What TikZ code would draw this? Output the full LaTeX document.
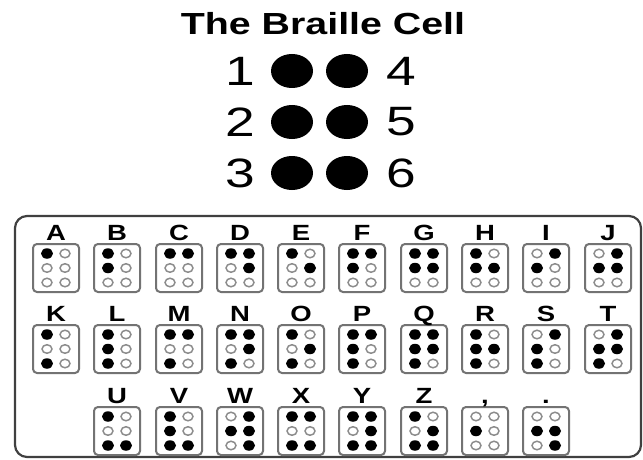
\documentclass[tikz,border=0pt]{standalone}
\usepackage{fontspec}
\setmainfont{Liberation Sans}
\usetikzlibrary{shapes.geometric}

% one braille cell: name, x, y, label, dots 1..6
\newcommand{\braillecell}[5]{%
  \node[cellbox] (#1) at (#2,#3) {};
  \node[letter] (#1-label) at (#2,#3-28) {#4};
  \foreach \d [count=\i from 0] in {#5} {
    \pgfmathtruncatemacro{\cc}{int(\i/3)}
    \pgfmathtruncatemacro{\rr}{mod(\i,3)}
    \node[bdot\d] (#1-\i) at (#2+18*\cc-9, #3+14.5*\rr-14.5) {};
  }
}

\begin{document}
\begin{tikzpicture}[
    x=1pt, y=-1pt,
    heading/.style={font=\fontsize{30.5}{31}\selectfont\bfseries, xscale=1.29, anchor=base, inner sep=0},
    digit/.style={font=\fontsize{41}{41}\selectfont, xscale=1.3, inner sep=0},
    bigdot/.style={ellipse, fill=black, minimum width=42pt, minimum height=34pt, inner sep=0},
    alphabox/.style={draw=black!75, line width=2.2pt, rounded corners=12pt},
    cellbox/.style={draw=black!55, line width=2pt, rounded corners=4pt, minimum width=46pt, minimum height=48pt, inner sep=0},
    letter/.style={font=\fontsize{22}{22}\selectfont\bfseries, xscale=1.25, anchor=base, inner sep=0},
    bdot1/.style={ellipse, fill=black, minimum width=12pt, minimum height=10.5pt, inner sep=0},
    bdot0/.style={ellipse, draw=black!45, line width=1.5pt, minimum width=10pt, minimum height=8.5pt, inner sep=0},
  ]
  \useasboundingbox (0,0) rectangle (643,460);

  % the big cell
  \node[heading] (title) at (323,35) {The Braille Cell};
  \node[bigdot] (p1) at (292,71) {};
  \node[bigdot] (p2) at (292,122) {};
  \node[bigdot] (p3) at (292,173) {};
  \node[bigdot] (p4) at (347,71) {};
  \node[bigdot] (p5) at (347,122) {};
  \node[bigdot] (p6) at (347,173) {};
  \node[digit] (n1) at (240,71) {1};
  \node[digit] (n2) at (240,122) {2};
  \node[digit] (n3) at (240,173) {3};
  \node[digit] (n4) at (401,71) {4};
  \node[digit] (n5) at (401,122) {5};
  \node[digit] (n6) at (401,173) {6};

  % alphabet
  \draw[alphabox] (15,216) rectangle (641,457);

  \braillecell{cellA}{56}{268}{A}{1,0,0,0,0,0}
  \braillecell{cellB}{117}{268}{B}{1,1,0,0,0,0}
  \braillecell{cellC}{179}{268}{C}{1,0,0,1,0,0}
  \braillecell{cellD}{240}{268}{D}{1,0,0,1,1,0}
  \braillecell{cellE}{301}{268}{E}{1,0,0,0,1,0}
  \braillecell{cellF}{362}{268}{F}{1,1,0,1,0,0}
  \braillecell{cellG}{424}{268}{G}{1,1,0,1,1,0}
  \braillecell{cellH}{485}{268}{H}{1,1,0,0,1,0}
  \braillecell{cellI}{546}{268}{I}{0,1,0,1,0,0}
  \braillecell{cellJ}{608}{268}{J}{0,1,0,1,1,0}

  \braillecell{cellK}{56}{349}{K}{1,0,1,0,0,0}
  \braillecell{cellL}{117}{349}{L}{1,1,1,0,0,0}
  \braillecell{cellM}{179}{349}{M}{1,0,1,1,0,0}
  \braillecell{cellN}{240}{349}{N}{1,0,1,1,1,0}
  \braillecell{cellO}{301}{349}{O}{1,0,1,0,1,0}
  \braillecell{cellP}{362}{349}{P}{1,1,1,1,0,0}
  \braillecell{cellQ}{424}{349}{Q}{1,1,1,1,1,0}
  \braillecell{cellR}{485}{349}{R}{1,1,1,0,1,0}
  \braillecell{cellS}{546}{349}{S}{0,1,1,1,0,0}
  \braillecell{cellT}{608}{349}{T}{0,1,1,1,1,0}

  \braillecell{cellU}{117}{431}{U}{1,0,1,0,0,1}
  \braillecell{cellV}{179}{431}{V}{1,1,1,0,0,1}
  \braillecell{cellW}{240}{431}{W}{0,1,0,1,1,1}
  \braillecell{cellX}{301}{431}{X}{1,0,1,1,0,1}
  \braillecell{cellY}{362}{431}{Y}{1,0,1,1,1,1}
  \braillecell{cellZ}{424}{431}{Z}{1,0,1,0,1,1}
  \braillecell{cellcomma}{485}{431}{,}{0,1,0,0,0,0}
  \braillecell{cellperiod}{546}{431}{.}{0,1,0,0,1,1}
\end{tikzpicture}
\end{document}
